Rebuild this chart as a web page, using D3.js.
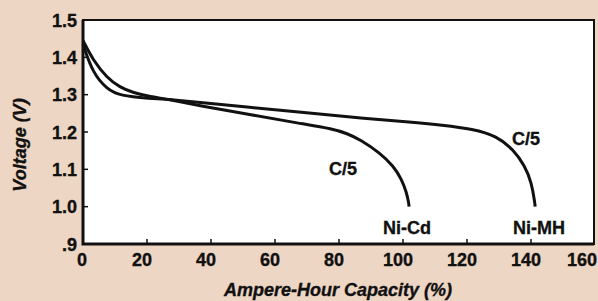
<!DOCTYPE html>
<html>
<head>
<meta charset="utf-8">
<script src="https://cdn.jsdelivr.net/npm/d3@7"></script>
<style>
  body { margin: 0; background: #eed6c4; }
  svg text { font-family: "Liberation Sans Narrow", "Liberation Sans", Arial, sans-serif; font-weight: bold; fill: #111; stroke: #111; stroke-width: 0.35; }
</style>
</head>
<body>
<svg id="chart" width="598" height="301"></svg>
<script>
// capacity (%) and voltage
var niCdCap = [0, 3.1, 7.5, 11.5, 15.7, 21, 27, 36.5, 52, 67.8, 78.2, 82.5, 86.6, 92.8, 97, 99.6, 101.1, 101.8, 101.9]
var niCdV   = [1.445, 1.393, 1.345, 1.32, 1.305, 1.295, 1.287, 1.27, 1.247, 1.223, 1.208, 1.196, 1.18, 1.144, 1.109, 1.073, 1.038, 1.01, 1.0]

var niMhCap = [0, 3.1, 7.5, 11.5, 21, 27, 36.5, 52, 67.8, 86, 104.7, 111.6, 122, 129.3, 134.5, 138.1, 140.2, 141.2, 141.3]
var niMhV   = [1.435, 1.357, 1.315, 1.297, 1.29, 1.287, 1.279, 1.266, 1.253, 1.238, 1.225, 1.219, 1.208, 1.189, 1.153, 1.109, 1.064, 1.01, 1.0]

var xTicks = [0, 20, 40, 60, 80, 100, 120, 140, 160]
var yTicks = [0.9, 1.0, 1.1, 1.2, 1.3, 1.4, 1.5]
var yTickLabels = [".9", "1.0", "1.1", "1.2", "1.3", "1.4", "1.5"]

var svg = d3.select("#chart")

var x = d3.scaleLinear().domain([0, 160]).range([83, 595])
var y = d3.scaleLinear().domain([0.9, 1.5]).range([244, 20])

// plot box
svg.append("rect")
  .attr("x", x(0)).attr("y", y(1.5))
  .attr("width", x(160) - 1 - x(0)).attr("height", y(0.9) - y(1.5))
  .attr("fill", "#fff")
  .attr("stroke", "#111").attr("stroke-width", 2)

// heavier left and bottom axes
svg.append("path")
  .attr("d", "M" + x(0) + "," + y(1.5) + "V" + y(0.9) + "H" + (x(160) - 1))
  .attr("fill", "none").attr("stroke", "#111").attr("stroke-width", 3)

// inward ticks
svg.selectAll(".xtick").data(xTicks.slice(1, -1)).enter()
  .append("line")
  .attr("x1", function(d) { return x(d) }).attr("x2", function(d) { return x(d) })
  .attr("y1", y(0.9)).attr("y2", y(0.9) - 5)
  .attr("stroke", "#111").attr("stroke-width", 1.5)

svg.selectAll(".ytick").data(yTicks.slice(1, -1)).enter()
  .append("line")
  .attr("x1", x(0)).attr("x2", x(0) + 5)
  .attr("y1", function(d) { return y(d) }).attr("y2", function(d) { return y(d) })
  .attr("stroke", "#111").attr("stroke-width", 1.5)

// tick labels
svg.selectAll(".xlab").data(xTicks).enter()
  .append("text")
  .attr("x", function(d) { return d == 160 ? 597 : x(d) })
  .attr("dx", function(d) { return d == 0 ? -1 : (d == 160 ? 0 : -5) })
  .attr("y", 266)
  .attr("text-anchor", function(d) { return d == 160 ? "end" : "middle" })
  .attr("font-size", 18)
  .text(function(d) { return d })

svg.selectAll(".ylab").data(yTicks).enter()
  .append("text")
  .attr("x", 77)
  .attr("y", function(d) { return y(d) + 6.5 })
  .attr("text-anchor", "end")
  .attr("font-size", 18)
  .text(function(d, i) { return yTickLabels[i] })

// axis titles
svg.append("text")
  .attr("x", 338).attr("y", 296)
  .attr("text-anchor", "middle")
  .attr("font-size", 18).attr("font-style", "italic")
  .text("Ampere-Hour Capacity (%)")

svg.append("text")
  .attr("transform", "translate(25.5,145) rotate(-90)")
  .attr("text-anchor", "middle")
  .attr("font-size", 18).attr("font-style", "italic")
  .text("Voltage (V)")

// curves
var line = d3.line()
  .x(function(d) { return x(d[0]) })
  .y(function(d) { return y(d[1]) })
  .curve(d3.curveBasis)

svg.append("path")
  .datum(d3.zip(niCdCap, niCdV))
  .attr("d", line)
  .attr("fill", "none").attr("stroke", "#111").attr("stroke-width", 3)

svg.append("path")
  .datum(d3.zip(niMhCap, niMhV))
  .attr("d", line)
  .attr("fill", "none").attr("stroke", "#111").attr("stroke-width", 3)

// curve labels
var notes = [
  { t: "C/5", cx: 329, cy: 175 },
  { t: "Ni-Cd", cx: 383, cy: 234 },
  { t: "C/5", cx: 512, cy: 145 },
  { t: "Ni-MH", cx: 513, cy: 234 }
]
svg.selectAll(".note").data(notes).enter()
  .append("text")
  .attr("x", function(d) { return d.cx })
  .attr("y", function(d) { return d.cy })
  .attr("font-size", 18)
  .text(function(d) { return d.t })
</script>
</body>
</html>
